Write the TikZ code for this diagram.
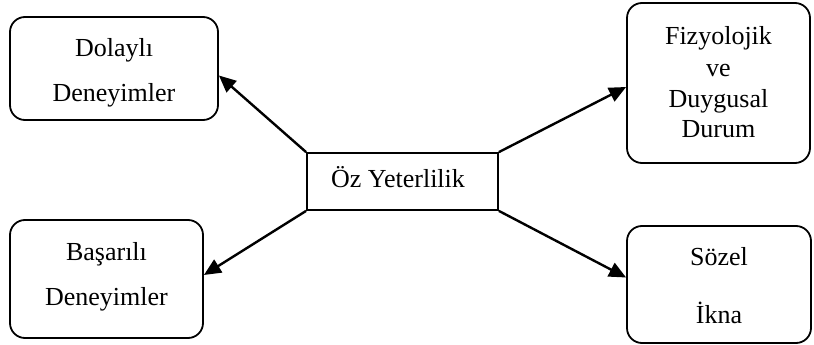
\documentclass[tikz,border=0pt]{standalone}
\usepackage{fontspec}
\setmainfont{Liberation Serif}
\usetikzlibrary{arrows.meta}
\begin{document}
\begin{tikzpicture}[x=1pt,y=-1pt,
  box/.style={draw,line width=1.8pt,rounded corners=15pt,inner sep=0pt},
  core/.style={draw,line width=1.8pt,inner sep=0pt},
  txt/.style={anchor=base,inner sep=0pt,font=\fontsize{26}{30}\selectfont},
  link/.style={line width=2.4pt,-{Triangle[length=17pt,width=15pt]}}]
\useasboundingbox (0,0) rectangle (814,345);
% central concept
\node[core,minimum width=191pt,minimum height=57pt] (oz) at (402.5,181.5) {};
\node[txt] (ozt) at (398,187) {Öz Yeterlilik};
% four sources
\node[box,minimum width=208pt,minimum height=103pt] (dol) at (114,68.5) {};
\node[txt] (dol1) at (114,57) {Dolaylı};
\node[txt] (dol2) at (114,102) {Deneyimler};
\node[box,minimum width=183pt,minimum height=160pt] (fiz) at (718.5,83) {};
\node[txt] (fiz1) at (718.5,45) {Fizyolojik};
\node[txt] (fiz2) at (718.5,77) {ve};
\node[txt] (fiz3) at (718.5,107) {Duygusal};
\node[txt] (fiz4) at (718.5,137) {Durum};
\node[box,minimum width=193pt,minimum height=118pt] (bas) at (106.5,279) {};
\node[txt] (bas1) at (106.5,260) {Başarılı};
\node[txt] (bas2) at (106.5,305) {Deneyimler};
\node[box,minimum width=184pt,minimum height=117pt] (soz) at (719,284.5) {};
\node[txt] (soz1) at (719,265) {Sözel};
\node[txt] (soz2) at (719,323) {İkna};
% arrows from the corners of the central box
\draw[link] (oz.north west) -- ([yshift=-7pt]dol.east);
\draw[link] (oz.north east) -- ([yshift=-4pt]fiz.west);
\draw[link] (oz.south west) -- ([yshift=4pt]bas.east);
\draw[link] (oz.south east) -- ([yshift=7pt]soz.west);
\end{tikzpicture}
\end{document}
